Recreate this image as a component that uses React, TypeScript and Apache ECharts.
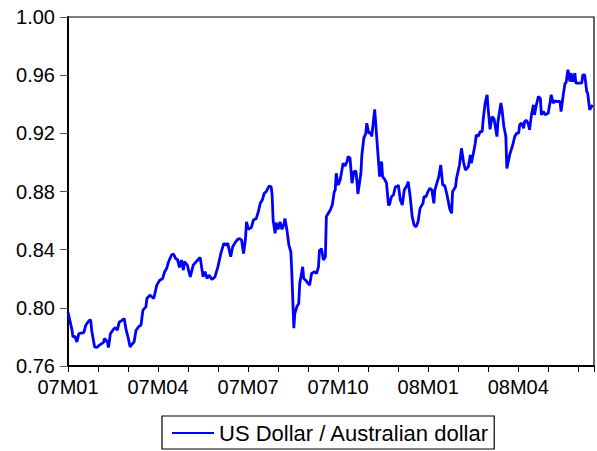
import React, { useEffect, useRef } from "react";
import * as echarts from "echarts";

const dayIndex = [
  0, 4, 5, 7, 9, 11, 14, 16, 18, 21,
  23, 24, 27, 29, 32, 36, 37, 40, 41, 43,
  46, 48, 50, 52, 54, 57, 59, 61, 63, 64,
  67, 69, 72, 74, 76, 79, 80, 83, 85, 87,
  90, 93, 96, 98, 100, 102, 105, 107, 109, 111,
  113, 115, 117, 118, 121, 124, 127, 130, 134, 137,
  139, 141, 143, 146, 149, 152, 155, 158, 160, 162,
  165, 167, 170, 172, 174, 176, 178, 180, 181, 183,
  186, 188, 191, 193, 195, 197, 199, 201, 204, 206,
  207, 208, 210, 211, 213, 215, 217, 219, 220, 222,
  224, 226, 227, 229, 230, 232, 234, 235, 238, 239,
  241, 243, 245, 247, 250, 252, 254, 255, 256, 257,
  259, 261, 262, 264, 266, 268, 270, 271, 272, 274,
  276, 279, 281, 283, 284, 286, 288, 290, 292, 293,
  294, 297, 298, 300, 302, 303, 305, 307, 308, 311,
  312, 314, 316, 318, 319, 321, 323, 325, 326, 328,
  330, 332, 334, 335, 337, 339, 341, 344, 345, 347,
  349, 351, 353, 355, 357, 360, 361, 363, 365, 367,
  369, 371, 372, 376, 378, 380, 382, 384, 386, 387,
  389, 390, 393, 394, 397, 399, 401, 403, 406, 408,
  409, 411, 413, 414, 416, 418, 420, 421, 423, 425,
  426, 428, 430, 432, 435, 436, 439, 440, 442, 444,
  445, 448, 451, 453, 455, 457, 458, 460, 462, 463,
  465, 467, 468, 470, 472, 473, 475, 477, 479, 480,
  482, 484, 487, 489, 490, 492, 494, 495, 497, 499,
  500, 502, 504, 505, 507, 509, 510, 512, 514, 515,
  519, 521, 522, 524, 526, 527, 529, 531, 532,
];

// US Dollar / Australian dollar
const usdAud = [
  0.797, 0.785, 0.780, 0.7805, 0.7765, 0.7823, 0.7827, 0.783, 0.788, 0.791,
  0.7918, 0.7846, 0.7731, 0.7727, 0.7743, 0.7763, 0.7789, 0.7765, 0.7727, 0.7823,
  0.7851, 0.7864, 0.7846, 0.7903, 0.791, 0.7926, 0.7846, 0.7796, 0.7731, 0.7743,
  0.7765, 0.7846, 0.7873, 0.788, 0.7984, 0.8007, 0.8064, 0.8087, 0.8076, 0.8064,
  0.8156, 0.819, 0.8202, 0.8248, 0.827, 0.8317, 0.8363, 0.837, 0.834, 0.8333,
  0.8278, 0.8328, 0.8259, 0.8317, 0.8294, 0.8213, 0.8294, 0.8317, 0.8347, 0.8213,
  0.8248, 0.8202, 0.8225, 0.8195, 0.8213, 0.8282, 0.8374, 0.8443, 0.8431, 0.8443,
  0.8351, 0.842, 0.8454, 0.847, 0.8477, 0.8466, 0.8374, 0.8477, 0.8592, 0.854,
  0.8553, 0.8604, 0.8615, 0.8661, 0.8719, 0.8741, 0.8788, 0.8799, 0.8838, 0.8833,
  0.8776, 0.8604, 0.8512, 0.8586, 0.854, 0.8592, 0.854, 0.8576, 0.8615, 0.8535,
  0.8431, 0.8385, 0.8236, 0.786, 0.7961, 0.8007, 0.803, 0.8168, 0.8282, 0.8202,
  0.819, 0.8172, 0.8156, 0.8236, 0.8248, 0.8236, 0.8282, 0.8397, 0.8397, 0.8409,
  0.8328, 0.8351, 0.8627, 0.865, 0.8673, 0.8707, 0.8799, 0.881, 0.8925, 0.8845,
  0.8879, 0.8994, 0.8976, 0.9006, 0.904, 0.9029, 0.8857, 0.8937, 0.894, 0.8868,
  0.8783, 0.8925, 0.9051, 0.9167, 0.9201, 0.927, 0.9201, 0.9205, 0.9178, 0.9365,
  0.927, 0.9086, 0.8902, 0.9006, 0.8902, 0.8885, 0.8857, 0.8707, 0.871, 0.8764,
  0.8776, 0.8833, 0.8833, 0.8845, 0.8741, 0.8707, 0.881, 0.8845, 0.8868, 0.8764,
  0.8627, 0.8569, 0.8557, 0.8592, 0.8684, 0.8719, 0.8764, 0.8764, 0.8799, 0.8822,
  0.881, 0.8719, 0.881, 0.8902, 0.8982, 0.8845, 0.884, 0.8788, 0.872, 0.8684,
  0.865, 0.8799, 0.8833, 0.889, 0.8982, 0.9097, 0.9006, 0.8948, 0.897, 0.9051,
  0.8994, 0.906, 0.9132, 0.9189, 0.918, 0.9212, 0.9212, 0.9293, 0.9408, 0.9465,
  0.9375, 0.9228, 0.9315, 0.930, 0.9178, 0.928, 0.9408, 0.937, 0.9247, 0.9178,
  0.8959, 0.9055, 0.912, 0.9178, 0.9201, 0.9201, 0.9258, 0.927, 0.9235, 0.9281,
  0.929, 0.9258, 0.9224, 0.9327, 0.9396, 0.9327, 0.9396, 0.9453, 0.944, 0.9327,
  0.935, 0.9327, 0.934, 0.9419, 0.9465, 0.9408, 0.9425, 0.9419, 0.9419, 0.9419,
  0.935, 0.9453, 0.9545, 0.9545, 0.9637, 0.9556, 0.9614, 0.9556, 0.9614, 0.9545,
  0.9545, 0.9545, 0.9602, 0.9602, 0.9488, 0.9476, 0.9362, 0.9384, 0.9396,
];

const quarterLabels = ["07M01", "07M04", "07M07", "07M10", "08M01", "08M04"];
const seriesName = "US Dollar / Australian dollar";
const DAYS_PER_MONTH = 365.25 / 12;
const LAST_DAY = 533.4;

const FONT = "'Liberation Sans', Arial, sans-serif";

export default function App() {
  const ref = useRef<HTMLDivElement>(null);

  useEffect(() => {
    if (!ref.current) return;
    const chart = echarts.init(ref.current, undefined, { renderer: "svg" });
    const data = dayIndex.map((d, i) => [d / DAYS_PER_MONTH, usdAud[i]]);

    chart.setOption({
      animation: false,
      backgroundColor: "#ffffff",
      textStyle: { fontFamily: FONT },
      grid: {
        left: 68,
        right: 1,
        top: 17,
        bottom: 85,
        show: true,
        borderColor: "#000",
        borderWidth: 1.2,
        backgroundColor: "transparent",
      },
      legend: {
        left: 162,
        top: 416,
        data: [{ name: seriesName, icon: "rect" }],
        itemWidth: 42,
        itemHeight: 2,
        itemGap: 8,
        borderColor: "#000",
        borderWidth: 1.2,
        padding: [6, 5, 5, 10],
        textStyle: { fontSize: 22, color: "#000", fontFamily: FONT },
      },
      xAxis: {
        type: "value",
        min: 0,
        max: LAST_DAY / DAYS_PER_MONTH,
        interval: 1,
        splitLine: { show: false },
        axisLine: { lineStyle: { color: "#000", width: 2 } },
        axisTick: { show: true, inside: false, length: 6, lineStyle: { color: "#000", width: 1 } },
        axisLabel: {
          fontSize: 20,
          color: "#000",
          fontFamily: FONT,
          margin: 11,
          formatter: (v: number) => {
            const m = Math.round(v);
            if (Math.abs(v - m) > 1e-6 || m % 3 !== 0) return "";
            return quarterLabels[m / 3] ?? "";
          },
        },
      },
      yAxis: {
        type: "value",
        min: 0.76,
        max: 1.0,
        interval: 0.04,
        splitLine: { show: false },
        axisLine: { show: true, lineStyle: { color: "#000", width: 2 } },
        axisTick: { show: true, inside: false, length: 8, lineStyle: { color: "#555", width: 1 } },
        axisLabel: {
          fontSize: 20,
          color: "#000",
          fontFamily: FONT,
          margin: 13,
          formatter: (v: number) => v.toFixed(2),
        },
      },
      series: [
        {
          name: seriesName,
          type: "line",
          data,
          showSymbol: false,
          symbol: "none",
          color: "#0000ff",
          lineStyle: { color: "#0000ff", width: 2.8 },
        },
      ],
    });

    return () => chart.dispose();
  }, []);

  return (
    <div
      ref={ref}
      style={{ position: "fixed", left: 0, top: 0, width: 597, height: 451, background: "#fff" }}
    />
  );
}
